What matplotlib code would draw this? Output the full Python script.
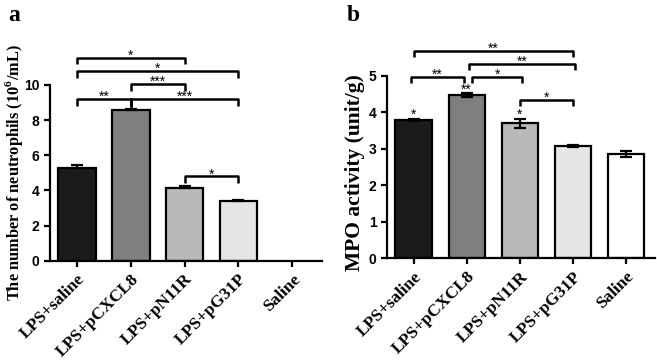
import numpy as np
import matplotlib
matplotlib.use('Agg')
import matplotlib.pyplot as plt

groups = ['LPS+saline', 'LPS+pCXCL8', 'LPS+pN11R', 'LPS+pG31P', 'Saline']
bar_colors = ['#1b1b1b', '#7f7f7f', '#b9b9b9', '#e6e6e6', '#ffffff']

# panel a: neutrophil counts (10^6/mL); no bar for Saline
neut_mean = [5.25, 8.55, 4.15, 3.38, np.nan]
neut_err = [0.17, 0.08, 0.08, 0.06, np.nan]

# panel b: MPO activity (unit/g)
mpo_mean = [3.79, 4.47, 3.70, 3.07, 2.86]
mpo_err = [0.03, 0.05, 0.13, 0.03, 0.09]
mpo_marks = ['*', '**', '*', '', '']

# brackets: (x1, x2, y, label)
brackets_a = [(0, 2, 11.55, '*'), (0, 3, 10.8, '*'), (1, 2, 10.05, '***'),
              (0, 1, 9.2, '**'), (1, 3, 9.2, '***'), (2, 3, 4.8, '*')]
brackets_b = [(0, 3, 5.69, '**'), (1.05, 3.05, 5.34, '**'), (-0.05, 0.95, 4.98, '**'),
              (1.1, 2.05, 4.98, '*'), (2, 3, 4.34, '*')]

serif = 'Liberation Serif'
sans = 'Liberation Sans'
plt.rcParams['mathtext.fontset'] = 'custom'
plt.rcParams['mathtext.rm'] = serif
plt.rcParams['mathtext.bf'] = serif + ':bold'


def stars(ax, x, y, label):
    ax.annotate(label, xy=(x, y), xytext=(0, -1.5), textcoords='offset points',
                ha='center', va='baseline', fontsize=10, family=sans,
                annotation_clip=False)


def bracket(ax, x1, x2, y, h, label):
    ax.plot([x1, x1, x2, x2], [y - h, y, y, y - h], color='black', lw=1.8,
            clip_on=False, solid_capstyle='butt')
    stars(ax, (x1 + x2) / 2, y, label)


def style(ax, ylabel, ymax, step, lsize):
    ax.set_xlim(-0.5, 4.55)
    ax.set_ylim(0, ymax)
    ax.set_yticks(np.arange(0, ymax + 0.01, step))
    ax.set_xticks(np.arange(len(groups)))
    ax.set_xticklabels(groups, rotation=45, ha='right', rotation_mode='anchor',
                       family=serif, fontweight='bold', fontsize=12.5)
    for lbl in ax.get_yticklabels():
        lbl.set_family(sans)
        lbl.set_fontweight('bold')
        lbl.set_fontsize(10)
    ax.tick_params(width=1.6, length=4, direction='out')
    for s in ['top', 'right']:
        ax.spines[s].set_visible(False)
    for s in ['left', 'bottom']:
        ax.spines[s].set_linewidth(1.6)
    ax.set_ylabel(ylabel, family=serif, fontweight='bold', fontsize=lsize)


fig = plt.figure(figsize=(6.57, 3.6), dpi=100)
ax1 = fig.add_axes([0.076, 0.276, 0.414, 0.488])
ax2 = fig.add_axes([0.589, 0.2825, 0.408, 0.5065])

x = np.arange(len(groups))

# ── panel a ──
ax1.bar(x, neut_mean, 0.7, color=bar_colors, edgecolor='black', linewidth=1.6, zorder=2)
ax1.errorbar(x, neut_mean, yerr=[np.zeros(5), neut_err], fmt='none', ecolor='black',
             elinewidth=1.6, capsize=4, capthick=1.6, zorder=3)
style(ax1, 'The number of neutrophils (10$^\\mathbf{6}$/mL)', 10, 2, 11.8)
ax1.yaxis.set_label_coords(-0.092, 0.50)
for x1, x2, y, lbl in brackets_a:
    bracket(ax1, x1, x2, y, 0.38, lbl)
ax1.plot([1, 1], [9.2, 8.75], color='black', lw=1.8, clip_on=False)

# ── panel b ──
ax2.bar(x, mpo_mean, 0.68, color=bar_colors, edgecolor='black', linewidth=1.6, zorder=2)
ax2.errorbar(x, mpo_mean, yerr=mpo_err, fmt='none', ecolor='black',
             elinewidth=1.6, capsize=4, capthick=1.6, zorder=3)
for xi, m, e, s in zip(x, mpo_mean, mpo_err, mpo_marks):
    if s:
        stars(ax2, xi, m + e + 0.06, s)
style(ax2, 'MPO activity (unit/g)', 5, 1, 15.5)
ax2.yaxis.set_label_coords(-0.081, 0.468)
for x1, x2, y, lbl in brackets_b:
    bracket(ax2, x1, x2, y, 0.17, lbl)

fig.text(0.012, 0.985, 'a', family=serif, fontweight='bold', fontsize=17, va='top')
fig.text(0.528, 0.985, 'b', family=serif, fontweight='bold', fontsize=17, va='top')

fig.savefig('out.png', dpi=100)
